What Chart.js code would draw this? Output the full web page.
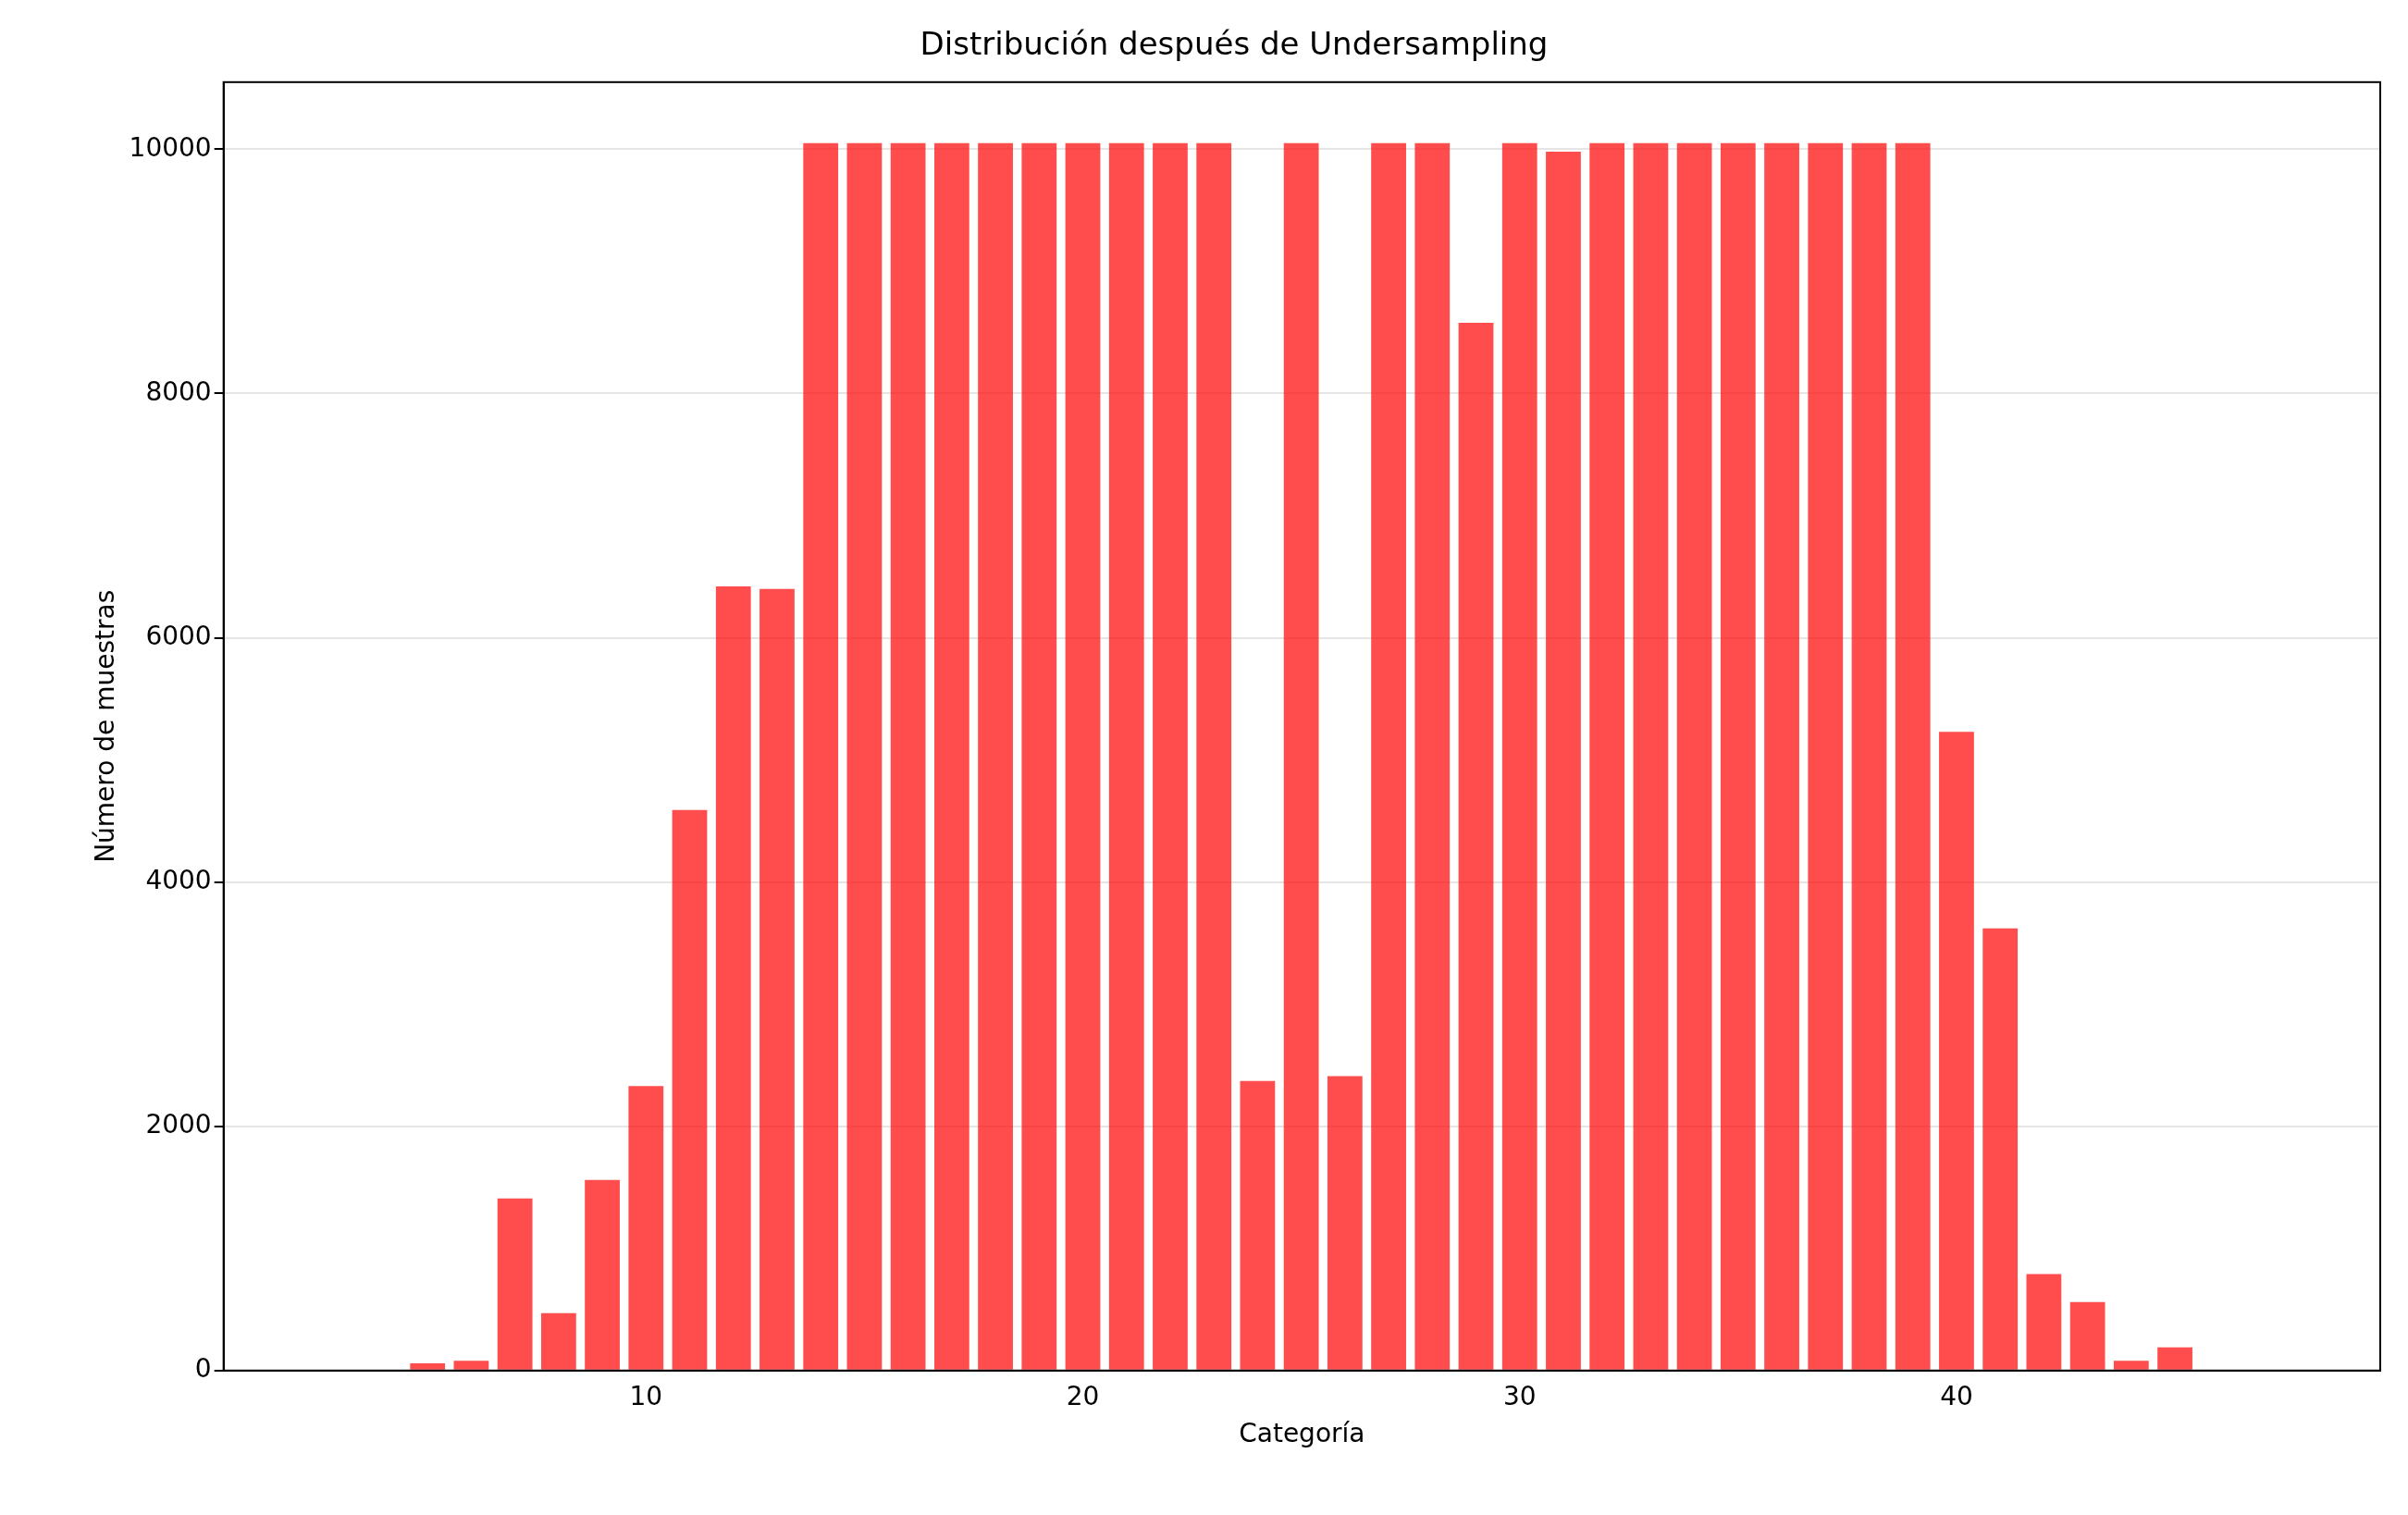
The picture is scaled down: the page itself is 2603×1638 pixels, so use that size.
<!DOCTYPE html>
<html>
<head>
<meta charset="utf-8">
<script src="https://cdn.jsdelivr.net/npm/chart.js@4"></script>
<style>
  html, body { margin: 0; padding: 0; background: #fff; }
  #wrap { width: 2603px; height: 1638px; }
</style>
</head>
<body>
<div id="wrap"><canvas id="c" width="2603" height="1638"></canvas></div>
<script>
// category numbers and sample counts
var categories = [3, 4, 5, 6, 7, 8, 9, 10, 11, 12, 13, 14, 15, 16, 17, 18, 19, 20, 21, 22, 23, 24, 25,
                  26, 27, 28, 29, 30, 31, 32, 33, 34, 35, 36, 37, 38, 39, 40, 41, 42, 43, 44, 45, 46, 47];
var counts = [0, 0, 60, 80, 1410, 470, 1560, 2330, 4590, 6420, 6400, 10050, 10050, 10050, 10050, 10050,
              10050, 10050, 10050, 10050, 10050, 2370, 10050, 2410, 10050, 10050, 8580, 10050, 9980, 10050,
              10050, 10050, 10050, 10050, 10050, 10050, 10050, 5230, 3620, 790, 560, 80, 190, 0, 0];
var xTicks = [10, 20, 30, 40];
var yTicks = [0, 2000, 4000, 6000, 8000, 10000];

var points = categories.map(function (c, i) { return { x: c, y: counts[i] }; });

// black frame around the plot area
var frame = {
    id: 'frame',
    afterDraw: function (chart) {
        var a = chart.chartArea, ctx = chart.ctx;
        ctx.save();
        ctx.strokeStyle = '#000';
        ctx.lineWidth = 2;
        ctx.strokeRect(a.left, a.top, a.right - a.left, a.bottom - a.top);
        ctx.restore();
    }
};

var font = { family: 'DejaVu Sans', size: 28 };

new Chart(document.getElementById('c').getContext('2d'), {
    type: 'bar',
    data: {
        datasets: [{
            data: points,
            backgroundColor: 'rgba(255, 0, 0, 0.7)',
            borderWidth: 0,
            categoryPercentage: 1,
            barPercentage: 0.8,
        }],
    },
    options: {
        responsive: false,
        animation: false,
        layout: { padding: { top: 20, right: 30, left: 95, bottom: 65 } },
        plugins: {
            legend: { display: false },
            tooltip: { enabled: false },
            title: {
                display: true,
                text: 'Distribución después de Undersampling',
                color: '#000',
                font: { family: 'DejaVu Sans', size: 34, weight: 'normal' },
                padding: { top: 10, bottom: 18 },
            },
        },
        scales: {
            x: {
                type: 'linear',
                offset: false,
                min: 0.33,
                max: 49.7,
                afterBuildTicks: function (s) { s.ticks = xTicks.map(function (v) { return { value: v }; }); },
                grid: { display: false, offset: false, tickLength: 10, tickColor: '#000' },
                border: { color: '#000', width: 2 },
                ticks: { color: '#000', font: font, autoSkip: false, maxRotation: 0,
                         callback: function (v) { return String(v); } },
                title: { display: true, text: 'Categoría', color: '#000', font: font },
            },
            y: {
                min: 0,
                max: 10550,
                afterBuildTicks: function (s) { s.ticks = yTicks.map(function (v) { return { value: v }; }); },
                grid: { color: 'rgba(0,0,0,0.1)', lineWidth: 2, tickLength: 10, tickColor: '#000' },
                border: { color: '#000', width: 2 },
                ticks: { color: '#000', font: font, callback: function (v) { return String(v); } },
                title: { display: true, text: 'Número de muestras', color: '#000', font: font },
            },
        },
    },
    plugins: [frame],
});
</script>
</body>
</html>
